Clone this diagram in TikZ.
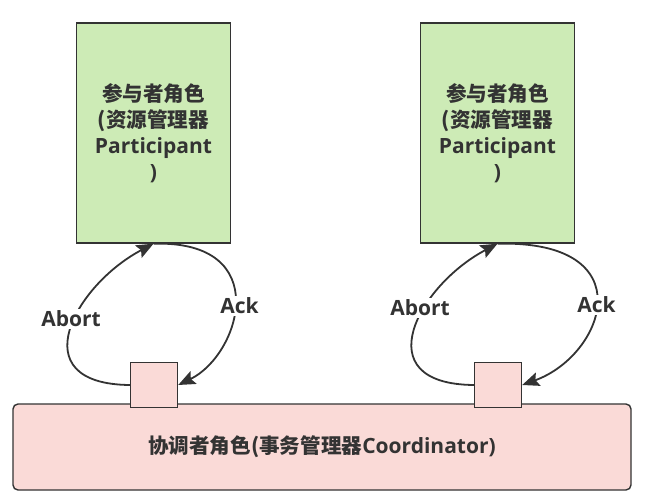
\documentclass[tikz,border=0pt]{standalone}
\usepackage{fontspec}
\setmainfont{Open Sans}
\newfontfamily\cjk{Noto Sans CJK SC}[Scale=0.98]
\usetikzlibrary{arrows.meta}
\definecolor{ink}{HTML}{333333}
\definecolor{gfill}{HTML}{CDEBB6}
\definecolor{pfill}{HTML}{FADAD7}
\begin{document}
\begin{tikzpicture}[x=1pt,y=-1pt,
  txt/.style={font=\fontsize{21}{26}\selectfont\bfseries, text=ink},
  part/.style={draw=ink, line width=1.4pt, fill=gfill, minimum width=154pt, minimum height=220pt, inner sep=0pt, txt, align=center},
  coord/.style={draw=ink, line width=1.4pt, fill=pfill, rounded corners=5pt, minimum width=618pt, minimum height=86pt, inner sep=0pt, txt},
  port/.style={draw=ink, line width=1.4pt, fill=pfill, minimum width=47pt, minimum height=45pt, inner sep=0pt},
  arr/.style={draw=ink, line width=1.8pt, -{Stealth[length=17pt,width=14pt,inset=3pt]}},
  lbl/.style={txt, fill=white, inner sep=1.5pt}]
\useasboundingbox (0,0) rectangle (651,503);
\node[part] (p1) at (153.5,133) {{\cjk 参与者角色}\\{\cjk (资源管理器}\\Participant\\)};
\node[part] (p2) at (497.5,133) {{\cjk 参与者角色}\\{\cjk (资源管理器}\\Participant\\)};
\node[coord] (c) at (322,447) {{\cjk 协调者角色(事务管理器}Coordinator)};
\node[port] (s1) at (154,385) {};
\node[port] (s2) at (498,385) {};
\draw[arr] (s1.west) .. controls (20,384) and (75,285) .. (p1.south);
\draw[arr] (p1.south) .. controls (275,240) and (240,355) .. (s1.east);
\draw[arr] (s2.west) .. controls (364,384) and (419,285) .. (p2.south);
\draw[arr] (p2.south) .. controls (645,240) and (605,355) .. (s2.east);
\node[lbl] (a1) at (71,319) {Abort};
\node[lbl] (k1) at (239.5,306) {Ack};
\node[lbl] (a2) at (420,308) {Abort};
\node[lbl] (k2) at (596.5,305) {Ack};
\end{tikzpicture}
\end{document}
